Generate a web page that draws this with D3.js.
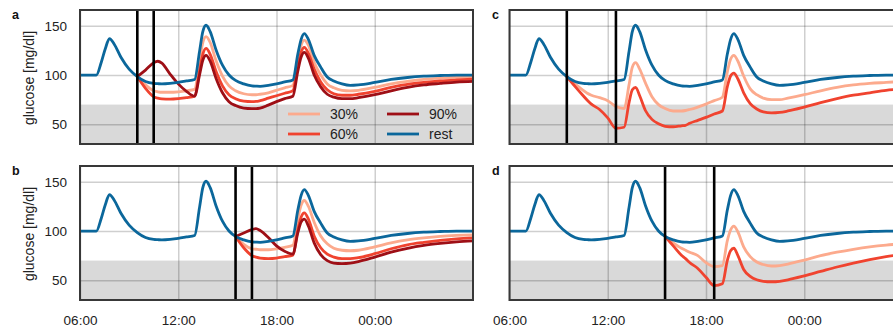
<!DOCTYPE html>
<html>
<head>
<meta charset="utf-8">
<script src="https://cdn.jsdelivr.net/npm/d3@7"></script>
<style>
  body { margin: 0; background: #fff; }
  svg { display: block; font-family: "Liberation Sans", Arial, sans-serif; }
</style>
</head>
<body>
<svg id="chart" width="893" height="330"></svg>
<script>
// time grid in hours since midnight (30 = 06:00 next day)
var hours = [6, 7, 7.3, 7.55, 7.8, 8.1, 8.5, 9, 9.5, 10, 10.5, 10.75, 11, 11.5, 12, 12.5,
  13, 13.3, 13.5, 13.7, 13.95, 14.3, 14.7, 15.1, 15.5, 16, 16.5, 16.75, 17, 17.5, 18, 18.5,
  19, 19.3, 19.5, 19.7, 19.95, 20.3, 20.7, 21.1, 21.5, 22, 22.5, 23, 24, 25, 26, 27, 28, 29, 30];

// glucose at rest (same in every panel)
var rest = [100, 100, 113, 127, 137, 131, 118, 106, 98.5, 93.5, 91.5, 91.2, 91, 91.5, 92.5, 94,
  95.5, 124, 144, 150.5, 144, 126, 110, 100, 94.5, 91, 89, 88.7, 88.5, 89.5, 91, 93,
  95, 121, 136, 142, 136, 120, 108, 98, 94, 91, 89.5, 90, 92.5, 95.5, 97.5, 98.8, 99.5, 100, 100];

// exercise windows
var exA = [9.5, 10.5];
var exB = [15.5, 16.5];
var exC = [9.5, 12.5];
var exD = [15.5, 18.5];

// intensity series, starting at the exercise start
var a30 = [98.5, 90, 84, 83, 82.5, 82.5, 83, 84, 85.5, 114, 133, 139, 133, 115, 99, 89,
  84, 81, 80, 80, 80.5, 82, 84.5, 87, 89.5, 116, 130, 135.5, 130, 113, 100, 91, 87,
  84.5, 84, 84.5, 87.5, 91, 93.5, 95.5, 96.8, 97.6, 98.2];
var a60 = [98.5, 86.5, 78, 76.5, 75.8, 75.5, 76, 77, 78.5, 104, 121, 127, 121, 104, 89, 80,
  76, 73.5, 73, 73.2, 74, 76.5, 79, 81.5, 84, 110, 123, 128, 122, 106, 93, 85, 81,
  79.5, 79.5, 80.5, 83.5, 87.5, 90.5, 92.5, 94, 95, 95.8];
var a90 = [98.5, 105, 112.5, 114, 112, 101, 91, 83.5, 78.5, 100, 115, 120, 114, 97, 82, 73,
  69, 66.5, 66, 66, 66.5, 69.5, 73, 76, 78.5, 104, 118, 123, 117, 100, 88, 80.5, 77.5,
  76, 76, 77, 80, 84, 87.5, 90, 91.5, 92.8, 93.5];

var b30 = [94.5, 86.5, 82, 81.5, 81, 81, 82, 83.5, 85.5, 112, 126, 131, 125, 109, 95, 87, 82.5,
  80.5, 80, 80.5, 84, 88, 91, 93, 94.5, 95.5, 96.2];
var b60 = [94.5, 83, 75, 73.5, 72.5, 72, 72.5, 74, 75.5, 101, 114, 118.5, 112, 95, 83, 76.5, 73.5,
  72, 72, 73, 77, 82, 86, 88.5, 90.5, 92, 93];
var b90 = [94.5, 98, 101.5, 102.5, 100.5, 93.5, 85, 79.5, 76.5, 98, 109, 112, 105, 88, 76, 70, 67.5,
  67, 67.5, 69, 73.5, 78.5, 82.5, 85.5, 87.5, 89, 90];

var c30 = [98.5, 91, 84.5, 81.5, 79.5, 77, 74, 68, 66, 90, 108, 112.5, 106, 92, 78, 70,
  66, 63.5, 63.5, 64, 65, 67.5, 70.5, 74, 77.5, 103, 116, 120, 114, 99, 86, 80, 76.5,
  75, 75, 76.5, 80, 84, 87.5, 90, 91.5, 92.5, 93.5];
var c60 = [98.5, 88.5, 79, 74.5, 70.5, 65, 56.5, 46, 47, 72, 85, 87.5, 79, 64, 55, 50.5,
  48, 47.5, 48.5, 49, 51, 54, 57, 60.5, 63.5, 88, 99, 102, 96, 82, 71, 65.5, 62.5,
  61.5, 62, 63.5, 67.5, 72, 76, 79.5, 82, 84.5, 86];

var d30 = [94.5, 88, 82.5, 80.5, 78.5, 75, 68, 64, 65, 90, 101, 105, 99, 84, 74, 68.5, 66,
  64.5, 65, 66.5, 70.5, 75, 78.5, 81.5, 84, 85.8, 87];
var d60 = [94.5, 85, 75.5, 72, 68, 62, 53, 44.5, 46.5, 70, 80, 82.5, 75, 61, 54, 50.5, 49,
  48.5, 49, 50.5, 54.5, 59, 63.5, 67.5, 71, 74, 76.5];

var xTicks = [6, 12, 18, 24];
var xTickLabels = ["06:00", "12:00", "18:00", "00:00"];
var yTicks = [50, 100, 150];
var hypo = 70;

var colors = { "30%": "#fcaa8d", "60%": "#f0432f", "90%": "#9e0f16", "rest": "#0b679b" };

var W = 393, H = 134;
var panels = [
  { id: "a", left: 80, top: 10, ex: exA, series: [[a30, "30%"], [a60, "60%"], [a90, "90%"]], yLabels: true, xLabels: false, legend: true },
  { id: "b", left: 80, top: 166, ex: exB, series: [[b30, "30%"], [b60, "60%"], [b90, "90%"]], yLabels: true, xLabels: true },
  { id: "c", left: 509.5, top: 10, ex: exC, series: [[c30, "30%"], [c60, "60%"]], yLabels: false, xLabels: false },
  { id: "d", left: 509.5, top: 166, ex: exD, series: [[d30, "30%"], [d60, "60%"]], yLabels: false, xLabels: true }
];

var x = d3.scaleLinear().domain([6, 30]).range([0, W]);
var y = d3.scaleLinear().domain([30, 166]).range([H, 0]);

var line = d3.line()
  .x(function (d) { return x(d[0]); })
  .y(function (d) { return y(d[1]); })
  .curve(d3.curveMonotoneX);

var svg = d3.select("#chart");

panels.forEach(function (p) {
  var g = svg.append("g").attr("transform", "translate(" + p.left + "," + p.top + ")");

  g.append("clipPath").attr("id", "clip-" + p.id)
    .append("rect").attr("width", W).attr("height", H);

  // hypoglycaemia band
  g.append("rect")
    .attr("x", 0).attr("y", y(hypo))
    .attr("width", W).attr("height", H - y(hypo))
    .attr("fill", "#d9d9d9");

  // grid
  var gx = g.append("g")
    .attr("transform", "translate(0," + H + ")")
    .call(d3.axisBottom(x).tickValues(xTicks).tickSize(-H).tickFormat(""));
  var gy = g.append("g")
    .call(d3.axisLeft(y).tickValues(yTicks).tickSize(-W).tickFormat(""));
  [gx, gy].forEach(function (a) {
    a.select(".domain").remove();
    a.selectAll("line").attr("stroke", "rgba(0,0,0,0.19)").attr("stroke-width", 1.5);
  });

  var lines = g.append("g").attr("clip-path", "url(#clip-" + p.id + ")");
  var offset = hours.indexOf(p.ex[0]);

  p.series.forEach(function (s) {
    var pts = s[0].map(function (v, i) { return [hours[offset + i], v]; });
    lines.append("path")
      .datum(pts)
      .attr("d", line)
      .attr("fill", "none")
      .attr("stroke", colors[s[1]])
      .attr("stroke-width", 2.8)
      .attr("stroke-linejoin", "round");
  });

  lines.append("path")
    .datum(rest.map(function (v, i) { return [hours[i], v]; }))
    .attr("d", line)
    .attr("fill", "none")
    .attr("stroke", colors.rest)
    .attr("stroke-width", 2.8)
    .attr("stroke-linejoin", "round");

  // exercise start / end
  g.selectAll(".ex")
    .data(p.ex)
    .enter().append("line")
    .attr("x1", function (d) { return x(d); })
    .attr("x2", function (d) { return x(d); })
    .attr("y1", 0).attr("y2", H)
    .attr("stroke", "#000")
    .attr("stroke-width", 2.6);

  g.append("rect")
    .attr("width", W).attr("height", H)
    .attr("fill", "none")
    .attr("stroke", "#383838")
    .attr("stroke-width", 2);

  if (p.yLabels) {
    var ya = g.append("g")
      .call(d3.axisLeft(y).tickValues(yTicks).tickSize(0).tickPadding(13));
    ya.select(".domain").remove();
    ya.selectAll("text").attr("font-size", "13.5px").attr("fill", "#222")
      .style("font-family", "'Liberation Sans', Arial, sans-serif");

    g.append("text")
      .attr("transform", "translate(" + (29 - p.left) + "," + (H / 2 + 1) + ")rotate(-90)")
      .attr("text-anchor", "middle")
      .attr("dominant-baseline", "central")
      .attr("font-size", "14px")
      .attr("fill", "#222")
      .text("glucose [mg/dl]");
  }

  if (p.xLabels) {
    var xa = g.append("g")
      .attr("transform", "translate(0," + H + ")")
      .call(d3.axisBottom(x).tickValues(xTicks).tickSize(0).tickPadding(15)
        .tickFormat(function (d, i) { return xTickLabels[i]; }));
    xa.select(".domain").remove();
    xa.selectAll("text").attr("font-size", "13.5px").attr("fill", "#222")
      .style("font-family", "'Liberation Sans', Arial, sans-serif");
  }

  svg.append("text")
    .attr("x", p.left < 100 ? 12 : 492)
    .attr("y", p.top + 8.5)
    .attr("font-size", "12.5px")
    .attr("font-weight", "bold")
    .attr("fill", "#111")
    .text(p.id);

  if (p.legend) {
    var items = [["30%", 208, 104], ["60%", 208, 124], ["90%", 307, 104], ["rest", 307, 124]];
    var lg = g.append("g");
    items.forEach(function (it) {
      lg.append("line")
        .attr("x1", it[1]).attr("x2", it[1] + 32)
        .attr("y1", it[2]).attr("y2", it[2])
        .attr("stroke", colors[it[0]])
        .attr("stroke-width", 2.8);
      lg.append("text")
        .attr("x", it[1] + 42).attr("y", it[2])
        .attr("dominant-baseline", "central")
        .attr("font-size", "14px")
        .attr("fill", "#222")
        .text(it[0]);
    });
  }
});
</script>
</body>
</html>
